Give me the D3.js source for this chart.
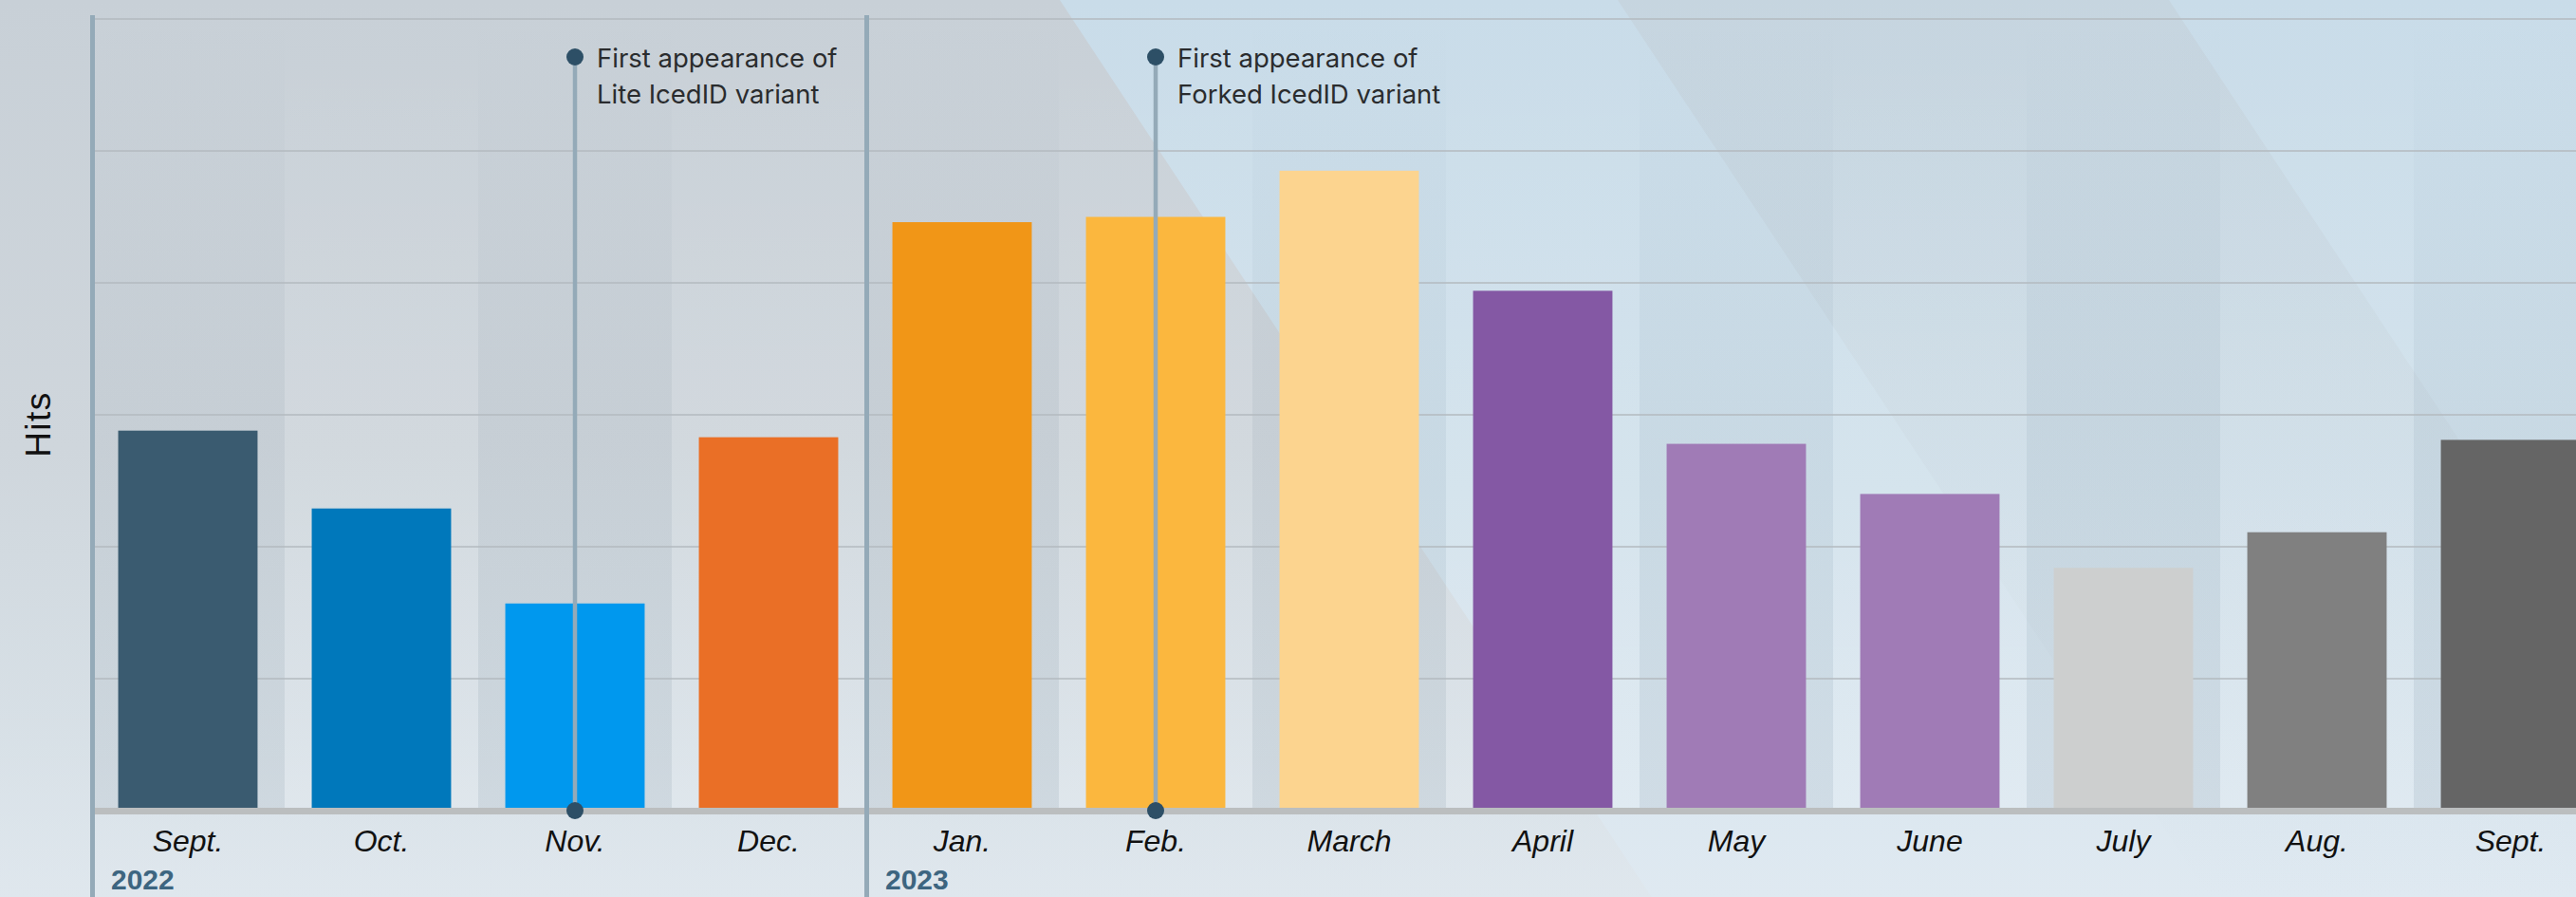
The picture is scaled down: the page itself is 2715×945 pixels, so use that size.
<!DOCTYPE html>
<html lang="en">
<head>
<meta charset="utf-8">
<title>IcedID hits by month</title>
<style>
  body { margin: 0; background: #d3dde4; }
  svg { display: block; }
</style>
</head>
<body>
<svg width="2715" height="945"></svg>

<script src="https://d3js.org/d3.v7.min.js"></script>
<script>
// Monthly hits, Sept. 2022 -> Sept. 2023 (no y ticks in the original, units are arbitrary)
var months = ["Sept.", "Oct.", "Nov.", "Dec.", "Jan.", "Feb.", "March",
              "April", "May", "June", "July", "Aug.", "Sept."];
var hits = [288, 229, 157, 283, 446, 450, 485, 394, 278, 240, 184, 211, 281];
var barColors = ["#3a5b70", "#0078bb", "#0098ee", "#ea6f26", "#f19617", "#fbb73e",
                 "#fcd48f", "#8458a4", "#a07bb6", "#a07bb6", "#cdcfcf", "#808080", "#656565"];

// year labels start at these month indexes
var years = ["2022", "2023"];
var yearStart = [0, 4];

// annotated events
var eventMonth = [2, 5];
var eventText = [["First appearance of", "Lite IcedID variant"],
                 ["First appearance of", "Forked IcedID variant"]];

var gridTicks = [100, 200, 300, 400, 500, 600];

var svg = d3.select("svg"),
    width = +svg.attr("width"),
    height = +svg.attr("height");

var idx = d3.range(months.length);

var x = d3.scaleBand()
    .domain(idx)
    .range([96, 96 + 204 * months.length])
    .paddingInner(0.28)
    .paddingOuter(0.14);

var y = d3.scaleLinear().domain([0, 600]).range([854, 20]);

// ---- background ----
var defs = svg.append("defs");

function vgrad(id, stops) {
    var g = defs.append("linearGradient").attr("id", id)
        .attr("gradientUnits", "userSpaceOnUse")
        .attr("x1", 0).attr("y1", 0).attr("x2", 0).attr("y2", height);
    stops.forEach(function(s) {
        g.append("stop").attr("offset", s[0]).attr("stop-color", s[1])
            .attr("stop-opacity", s[2] == null ? 1 : s[2]);
    });
}
vgrad("bgBlue", [[0, "#c9dce9"], [0.55, "#d2e2ec"], [1, "#dfe9f1"]]);
vgrad("bgGray", [[0, "#c8d0d7"], [0.5, "#cfd6dc", 1], [0.8, "#d6dde2", 0.7], [1, "#dfe4e8", 0.4]]);
vgrad("wedge", [[0, "#c3ced6", 0.5], [0.6, "#c3ced6", 0.15], [1, "#c3ced6", 0]]);
vgrad("stripeDark", [[0.02, "#5d7283", 0], [0.45, "#5d7283", 0.07], [0.9, "#5d7283", 0.1]]);
vgrad("stripeLight", [[0.02, "#ffffff", 0], [0.45, "#ffffff", 0.06], [0.9, "#ffffff", 0.12]]);

var slope = 0.66;
svg.append("rect").attr("width", width).attr("height", height).attr("fill", "url(#bgBlue)");
svg.append("polygon")
    .attr("points", [[0, 0], [1117, 0], [1117 + slope * height, height], [0, height]].join(" "))
    .attr("fill", "url(#bgGray)");
svg.append("polygon")
    .attr("points", [[1705, 0], [2286, 0], [2286 + slope * height, height], [1705 + slope * height, height]].join(" "))
    .attr("fill", "url(#wedge)");

// ---- column stripes ----
var half = x.step() * x.paddingInner() / 2;
svg.append("g").selectAll("rect")
    .data(idx)
    .join("rect")
    .attr("x", function(d) { return x(d) - half; })
    .attr("y", 20)
    .attr("width", x.step())
    .attr("height", 851 - 20)
    .attr("fill", function(d) { return d % 2 == 0 ? "url(#stripeDark)" : "url(#stripeLight)"; });

// ---- gridlines ----
svg.append("g").selectAll("line")
    .data(gridTicks)
    .join("line")
    .attr("x1", 98).attr("x2", width)
    .attr("y1", function(d) { return y(d); })
    .attr("y2", function(d) { return y(d); })
    .attr("stroke", "#b3babf")
    .attr("stroke-width", 1.5);

// ---- bars ----
svg.append("g").selectAll("rect")
    .data(idx)
    .join("rect")
    .attr("x", function(d) { return x(d); })
    .attr("y", function(d) { return y(hits[d]); })
    .attr("width", x.bandwidth())
    .attr("height", function(d) { return 852 - y(hits[d]); })
    .attr("fill", function(d) { return barColors[d]; });

// baseline band
svg.append("rect")
    .attr("x", 98).attr("y", 851)
    .attr("width", width - 98).attr("height", 7)
    .attr("fill", "#bbbebf");

// ---- year separators ----
svg.append("g").selectAll("line")
    .data(yearStart)
    .join("line")
    .attr("x1", function(d) { return x(d) - half + 1.5; })
    .attr("x2", function(d) { return x(d) - half + 1.5; })
    .attr("y1", 16).attr("y2", height)
    .attr("stroke", "#94aab8")
    .attr("stroke-width", 5);

svg.append("g").selectAll("text")
    .data(years)
    .join("text")
    .attr("x", function(d, i) { return x(yearStart[i]) - half + 21; })
    .attr("y", 937)
    .attr("font-family", "'Liberation Sans', Arial, sans-serif")
    .attr("font-weight", "bold")
    .attr("font-size", 30)
    .attr("fill", "#3d6580")
    .text(function(d) { return d; });

// ---- month labels ----
svg.append("g").selectAll("text")
    .data(idx)
    .join("text")
    .attr("x", function(d) { return x(d) + x.bandwidth() / 2; })
    .attr("y", 897)
    .attr("text-anchor", "middle")
    .attr("font-family", "'Liberation Sans', Arial, sans-serif")
    .attr("font-style", "italic")
    .attr("font-size", 32)
    .attr("fill", "#111")
    .text(function(d) { return months[d]; });

// ---- y axis title ----
svg.append("text")
    .attr("transform", "translate(53,447) rotate(-90)")
    .attr("text-anchor", "middle")
    .attr("font-family", "'Liberation Sans', Arial, sans-serif")
    .attr("font-size", 37)
    .attr("letter-spacing", 1.5)
    .attr("fill", "#111")
    .text("Hits");

// ---- event annotations ----
var ev = svg.append("g").selectAll("g")
    .data(eventMonth)
    .join("g")
    .attr("transform", function(d) { return "translate(" + (x(d) + x.bandwidth() / 2) + ",0)"; });

ev.append("line")
    .attr("y1", 60).attr("y2", 854)
    .attr("stroke", "#94aab8")
    .attr("stroke-width", 4.5);
ev.append("circle").attr("cy", 60).attr("r", 9).attr("fill", "#2d4f66");
ev.append("circle").attr("cy", 854).attr("r", 9).attr("fill", "#2d4f66");

ev.append("text")
    .attr("font-family", "Inter, 'Open Sans', sans-serif")
    .attr("font-size", 27.5)
    .attr("fill", "#2a2c2e")
    .selectAll("tspan")
    .data(function(d, i) { return eventText[i]; })
    .join("tspan")
    .attr("x", 23)
    .attr("y", function(d, i) { return 71 + i * 38; })
    .text(function(d) { return d; });
</script>
</body>
</html>
